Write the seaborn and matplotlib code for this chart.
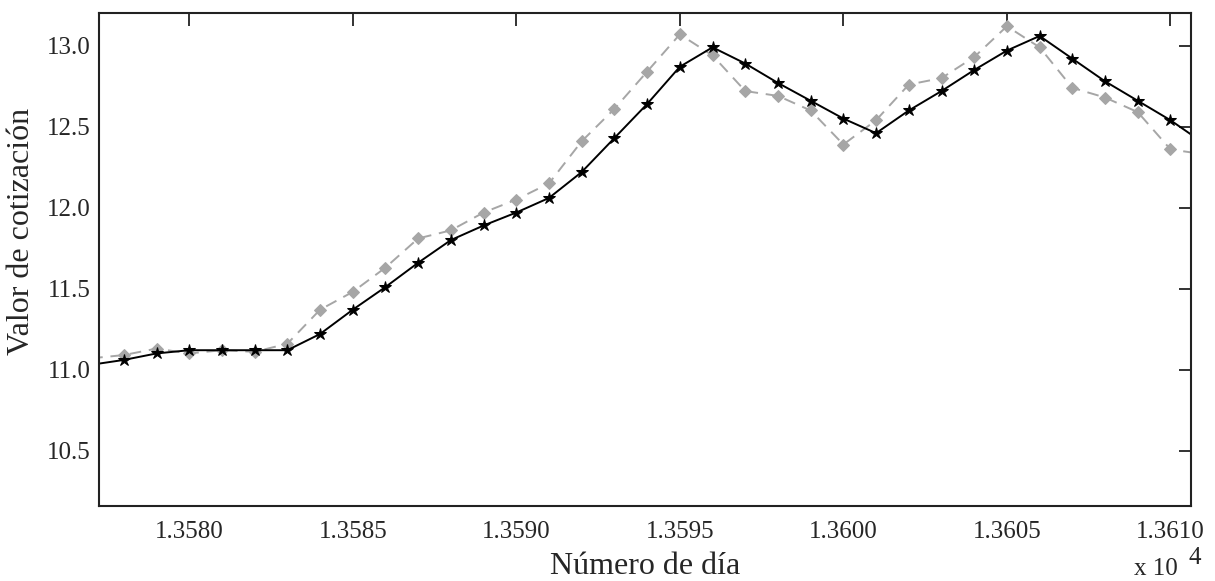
import numpy as np
import pandas as pd
import matplotlib
matplotlib.use("Agg")
import matplotlib.pyplot as plt
import seaborn as sns
from matplotlib.ticker import FuncFormatter

# days on the x axis
days = list(range(13577, 13612))

# black series (solid line, star markers)
real = [11.03, 11.06, 11.10, 11.12, 11.12, 11.12, 11.12, 11.22, 11.37, 11.51,
        11.66, 11.80, 11.89, 11.97, 12.06, 12.22, 12.43, 12.64, 12.87, 12.99,
        12.89, 12.77, 12.66, 12.55, 12.46, 12.60, 12.72, 12.85, 12.97, 13.06,
        12.92, 12.78, 12.66, 12.54, 12.40]

# gray series (dashed line, diamond markers)
pred = [11.07, 11.09, 11.13, 11.10, 11.12, 11.11, 11.16, 11.37, 11.48, 11.63,
        11.81, 11.86, 11.97, 12.05, 12.15, 12.41, 12.61, 12.84, 13.07, 12.94,
        12.72, 12.69, 12.60, 12.39, 12.54, 12.76, 12.80, 12.93, 13.12, 12.99,
        12.74, 12.68, 12.59, 12.36, 12.33]

x_ticks = [13580, 13585, 13590, 13595, 13600, 13605, 13610]
y_ticks = [10.5, 11.0, 11.5, 12.0, 12.5, 13.0]

df = pd.DataFrame({'dia': days, 'real': real, 'pred': pred})

sns.set_style("white")
plt.rcParams['font.family'] = ['Liberation Serif', 'DejaVu Serif']

fig = plt.figure(figsize=(12.15, 5.81), dpi=100)
ax = fig.add_axes([0.0817, 0.1296, 0.8986, 0.8475])

sns.lineplot(data=df, x='dia', y='pred', ax=ax, color='#a6a6a6', linestyle='--',
             linewidth=1.4, marker='D', markersize=6, markeredgecolor='#a6a6a6',
             dashes=False)
ax.lines[-1].set_dashes([6, 4])
sns.lineplot(data=df, x='dia', y='real', ax=ax, color='black', linewidth=1.4,
             marker='*', markersize=9, markeredgecolor='black')

ax.set_xlim(13577.25, 13610.63)
ax.set_ylim(10.16, 13.2)
ax.set_xticks(x_ticks)
ax.set_yticks(y_ticks)
ax.xaxis.set_major_formatter(FuncFormatter(lambda v, p: f"{v / 1e4:.4f}"))
ax.yaxis.set_major_formatter(FuncFormatter(lambda v, p: f"{v:.1f}"))

ax.tick_params(axis='both', which='major', direction='in', length=9, width=1.3,
               labelsize=18, top=True, right=True, color='#222222')
ax.tick_params(axis='x', pad=11)
ax.tick_params(axis='y', pad=6)
for s in ax.spines.values():
    s.set_linewidth(1.5)
    s.set_color('#222222')
    s.set_visible(True)

ax.set_xlabel('Número de día', fontsize=23)
ax.set_ylabel('Valor de cotización', fontsize=23)
ax.xaxis.set_label_coords(0.5, -0.095)
ax.yaxis.set_label_coords(-0.058, 0.556)

# offset text "x 10^4" at lower right
ax.text(0.948, -0.14, 'x 10', transform=ax.transAxes, fontsize=18,
        ha='left', va='baseline')
ax.text(0.998, -0.118, '4', transform=ax.transAxes, fontsize=18,
        ha='left', va='baseline')

fig.savefig('out.png', dpi=100)
